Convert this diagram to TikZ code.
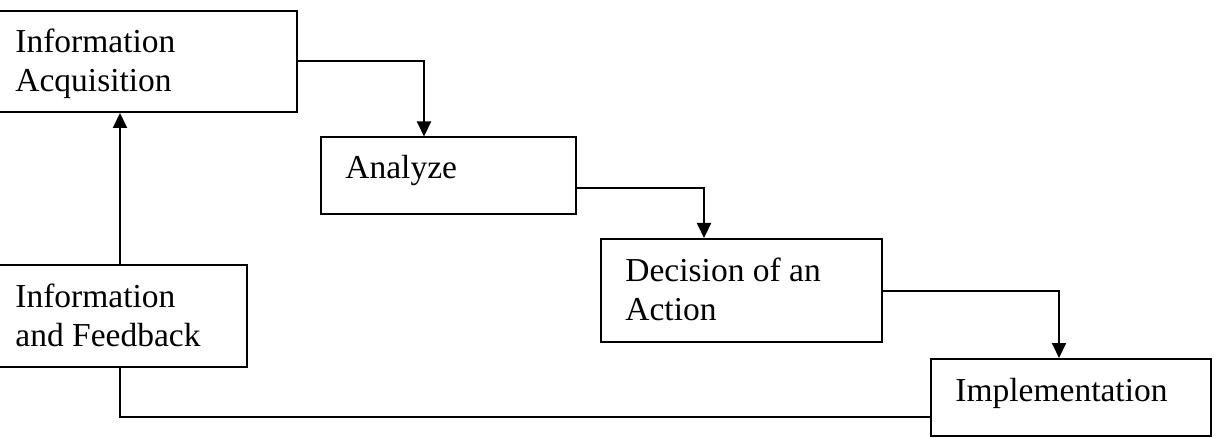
\documentclass[tikz,border=0pt]{standalone}
\usepackage{fontspec}
\setmainfont{Liberation Serif}
\usetikzlibrary{arrows.meta}
\tikzset{
  box/.style={draw, line width=1pt, rectangle, inner sep=0pt},
  lbl/.style={anchor=base west, inner sep=0pt, align=left, font=\fontsize{16.75pt}{19.5pt}\selectfont},
  conn/.style={line width=1pt},
  arr/.style={line width=1pt, -{Triangle[width=7pt,length=7.5pt]}}
}
\begin{document}
\begin{tikzpicture}[x=0.5pt,y=-0.5pt]
\fill[white] (0,0) rectangle (1230,438);
\useasboundingbox (0,0) rectangle (1230,438);
\node[box, minimum width=149.5pt, minimum height=50.5pt] (b1) at (147.5,61.5) {};
\node[box, minimum width=127.5pt, minimum height=38.25pt] (b2) at (448.5,175.75) {};
\node[box, minimum width=140.5pt, minimum height=51.5pt] (b3) at (741.5,290.5) {};
\node[box, minimum width=140pt, minimum height=38.5pt] (b4) at (1071,397.5) {};
\node[box, minimum width=124.5pt, minimum height=51pt] (b5) at (122.5,316) {};
\node[lbl] (t1) at (15,92) {Information\\Acquisition};
\node[lbl] (t2) at (345,179) {Analyze};
\node[lbl] (t3) at (625,320) {Decision of an\\Action};
\node[lbl] (t4) at (955,401.7) {Implementation};
\node[lbl] (t5) at (15,346.7) {Information\\and Feedback};
\coordinate (fb) at (120,416.7);
\draw[arr] (b1.east) -| ([xshift=-12.25pt]b2.north);
\draw[arr] ([yshift=-6.1pt]b2.east) -| ([xshift=-18.75pt]b3.north);
\draw[arr] (b3.east) -| ([xshift=-6pt]b4.north);
\draw[arr] ([xshift=-1.25pt]b5.north) -- ([xshift=-1.25pt]b5.north |- b1.south);
\draw[conn] ([xshift=-1.25pt]b5.south) -- (fb) -- (fb -| b4.west);
\end{tikzpicture}
\end{document}
